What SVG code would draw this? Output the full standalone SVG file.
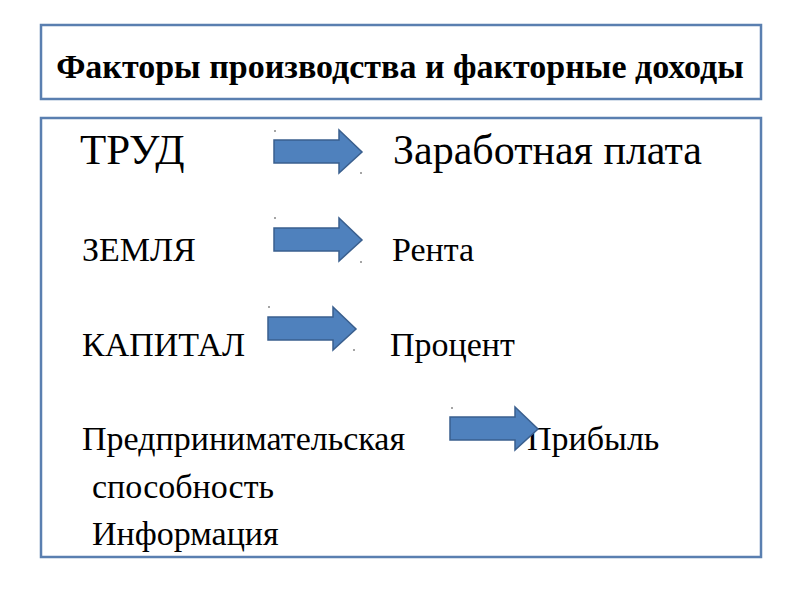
<svg xmlns="http://www.w3.org/2000/svg" width="800" height="600" viewBox="0 0 800 600" xml:lang="ru">
<defs>
<polygon id="arrow" points="0,10 65,10 65,0 88,22 65,43 65,33 0,33" fill="#4F81BD" stroke="#3A5F8E" stroke-width="1.5"/>
</defs>
<rect width="800" height="600" fill="#fff"/>
<g id="title">
<rect x="41" y="25" width="720" height="74" fill="#fff" stroke="#5A7FB0" stroke-width="2.5"/>
<text font-family="Liberation Serif, Times New Roman, DejaVu Serif, serif" fill="#000" x="400" y="78" font-size="34" font-weight="bold" text-anchor="middle">Факторы производства и факторные доходы</text>
</g>
<g id="content">
<rect x="41" y="118" width="720" height="439" fill="#fff" stroke="#5A7FB0" stroke-width="2.5"/>
</g>
<g id="labels" font-family="Liberation Serif, Times New Roman, DejaVu Serif, serif" fill="#000">
<text id="trud" x="80" y="164" font-size="43">ТРУД</text>
<text id="zarplata" x="393" y="164" font-size="42">Заработная плата</text>
<text id="zemlya" x="82" y="261" font-size="34">ЗЕМЛЯ</text>
<text id="renta" x="392" y="261" font-size="34">Рента</text>
<text id="kapital" x="82" y="356" font-size="34">КАПИТАЛ</text>
<text id="procent" x="390" y="356" font-size="34">Процент</text>
<text id="predpr" x="82" y="450" font-size="34">Предпринимательская</text>
<text id="pribyl" x="527" y="450" font-size="34">Прибыль</text>
<text id="sposobnost" x="92" y="498" font-size="34">способность</text>
<text id="info" x="92" y="545" font-size="34">Информация</text>
</g>
<g id="connectors">
<use href="#arrow" x="274" y="130"/>
<use href="#arrow" x="274" y="218"/>
<use href="#arrow" x="268" y="307"/>
<use href="#arrow" x="450" y="407"/>
<circle cx="275" cy="131" r="0.8" fill="#333"/>
<circle cx="361" cy="173" r="0.8" fill="#333"/>
<circle cx="275" cy="218" r="0.8" fill="#333"/>
<circle cx="361" cy="262" r="0.8" fill="#333"/>
<circle cx="269" cy="307" r="0.8" fill="#333"/>
<circle cx="354" cy="350" r="0.8" fill="#333"/>
<circle cx="452" cy="408" r="0.8" fill="#333"/>
</g>
</svg>
